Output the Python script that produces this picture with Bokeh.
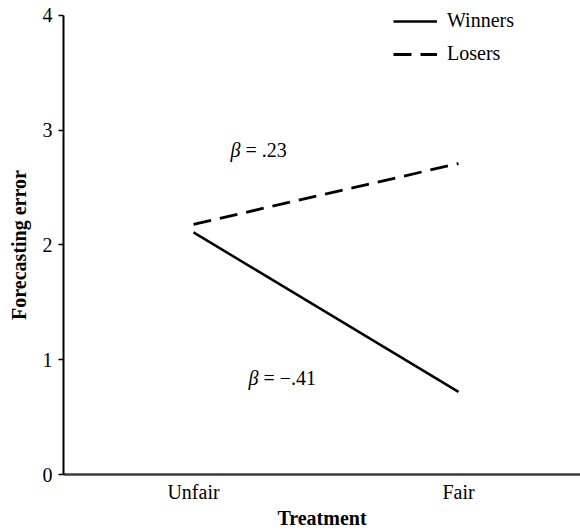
from bokeh.plotting import figure
from bokeh.models import ColumnDataSource, Range1d, FixedTicker, Legend, LegendItem
from bokeh.core.properties import value
from bokeh.embed import file_html
from bokeh.resources import INLINE

# ---- data ----
categories = ["Unfair", "Fair"]
winners = [2.11, 0.72]
losers = [2.18, 2.71]
y_ticks = [0, 1, 2, 3, 4]
series_names = ["Winners", "Losers"]
beta_texts = ["\u00a0= .23", "\u00a0= \u2212.41"]
beta_x = [0.177, 0.245]
beta_y = [2.824, 0.837]

FONT = "Liberation Serif"

xs = list(range(len(categories)))

p = figure(width=580, height=532, output_backend="svg", toolbar_location=None,
           x_range=Range1d(-0.4906, 1.4604), y_range=Range1d(0, 4.1307),
           min_border_left=63, min_border_right=0, min_border_top=0,
           min_border_bottom=58)
p.outline_line_color = None
p.xgrid.visible = False
p.ygrid.visible = False
p.background_fill_color = "white"
p.border_fill_color = "white"

src_w = ColumnDataSource(dict(x=xs, y=winners))
src_l = ColumnDataSource(dict(x=xs, y=losers))
r_w = p.line("x", "y", source=src_w, line_color="black", line_width=2.5)
r_l = p.line("x", "y", source=src_l, line_color="black", line_width=2.8,
             line_dash="18 9")

# axes
xa = p.xaxis[0]
xa.ticker = FixedTicker(ticks=xs)
xa.major_label_overrides = {i: c for i, c in zip(xs, categories)}
xa.major_tick_line_color = None
xa.minor_tick_line_color = None
xa.axis_line_color = "#3a3a3a"
xa.axis_line_width = 2.5
xa.major_label_text_font = FONT
xa.major_label_text_font_size = "20px"
xa.major_label_text_color = "black"
xa.major_label_text_line_height = 1.0
xa.major_label_standoff = 0
xa.axis_label = "Treatment"
xa.axis_label_text_font = FONT
xa.axis_label_text_font_style = "bold"
xa.axis_label_text_font_size = "20px"
xa.axis_label_text_color = "black"
xa.axis_label_text_line_height = 1.0
xa.axis_label_standoff = 1

ya = p.yaxis[0]
ya.ticker = FixedTicker(ticks=y_ticks)
ya.bounds = (0, 4)
ya.major_tick_in = 0
ya.major_tick_out = 5
ya.major_tick_line_width = 1.5
ya.major_tick_line_color = "black"
ya.minor_tick_line_color = None
ya.axis_line_color = "black"
ya.axis_line_width = 2
ya.major_label_text_font = FONT
ya.major_label_text_font_size = "20px"
ya.major_label_text_color = "black"
ya.major_label_standoff = 6
ya.axis_label = "Forecasting error\u00a0\u00a0\u00a0"
ya.axis_label_text_font = FONT
ya.axis_label_text_font_style = "bold"
ya.axis_label_text_font_size = "20px"
ya.axis_label_text_color = "black"
ya.axis_label_text_line_height = 1.0
ya.axis_label_standoff = 10

# beta annotations
src_b = ColumnDataSource(dict(x=beta_x, y=beta_y, t=beta_texts, b=["\u03b2"] * len(beta_x)))
p.text("x", "y", text="b", source=src_b, text_align="right", text_baseline="middle",
       text_font=value(FONT), text_font_style="italic", text_font_size="20px",
       text_color="black")
p.text("x", "y", text="t", source=src_b, text_align="left", text_baseline="middle",
       text_font=value(FONT), text_font_size="20px", text_color="black")

legend = Legend(items=[LegendItem(label=series_names[0], renderers=[r_w]),
                       LegendItem(label=series_names[1], renderers=[r_l])],
                location=(330, 409), orientation="vertical")
legend.border_line_color = None
legend.background_fill_alpha = 0
legend.padding = 0
legend.margin = 0
legend.spacing = 10
legend.glyph_width = 44
legend.glyph_height = 20
legend.label_height = 20
legend.label_standoff = 10
legend.label_text_font = FONT
legend.label_text_font_size = "20px"
legend.label_text_color = "black"
p.add_layout(legend)

open("out.html", "w").write(file_html(p, INLINE))
